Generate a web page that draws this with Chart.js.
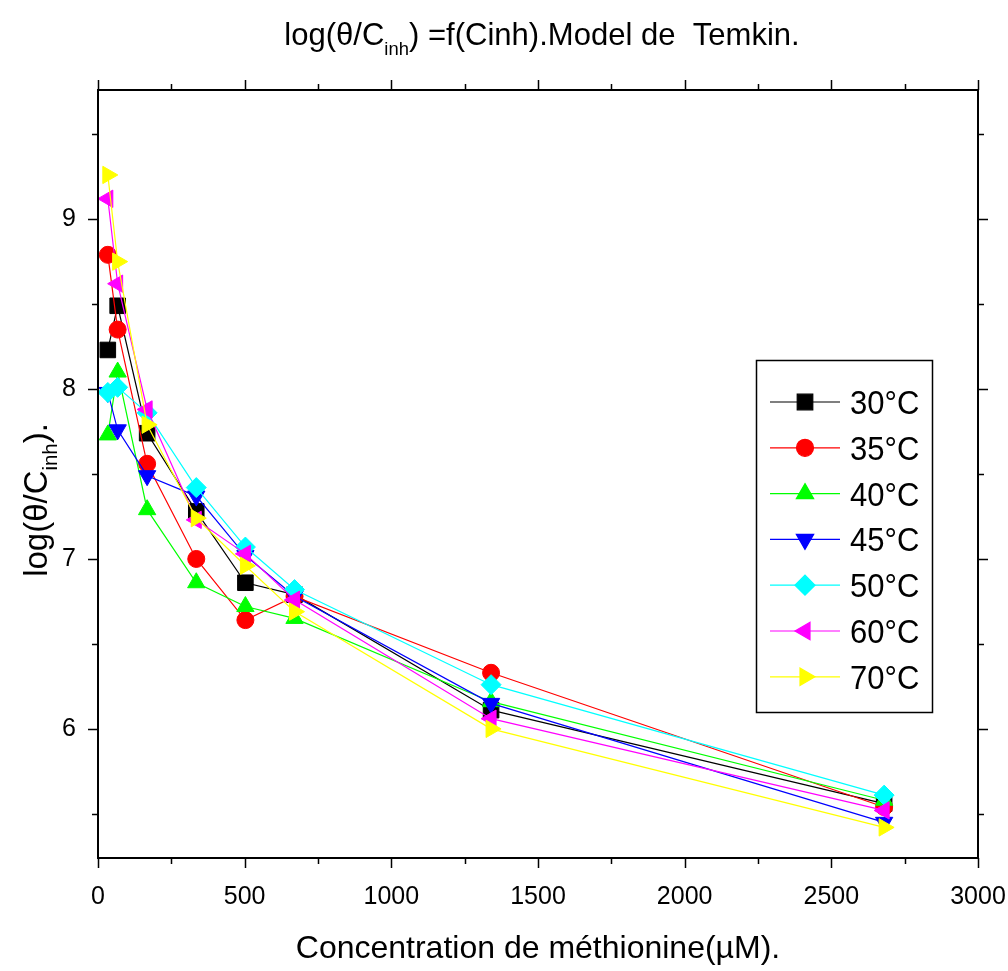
<!DOCTYPE html>
<html>
<head>
<meta charset="utf-8">
<script src="https://cdn.jsdelivr.net/npm/chart.js@4.4.1/dist/chart.umd.min.js"></script>
<style>
  html, body { margin: 0; background: #fff; }
  #wrap { width: 1008px; height: 971px; position: relative; }
</style>
</head>
<body>
<div id="wrap"><canvas id="chart"></canvas></div>
<script>
// methionine concentration (µM)
const conc = [33.5, 67, 167.5, 335, 502.5, 670, 1340, 2680];

const seriesNames = ["30°C", "35°C", "40°C", "45°C", "50°C", "60°C", "70°C"];
const t30 = [8.23, 8.49, 7.74, 7.28, 6.86, 6.79, 6.11, 5.56];
const t35 = [8.79, 8.35, 7.56, 7.00, 6.64, 6.78, 6.33, 5.54];
const t40 = [7.73, 8.10, 7.29, 6.86, 6.72, 6.65, 6.16, 5.58];
const t45 = [7.98, 7.76, 7.49, 7.37, 7.02, 6.78, 6.15, 5.45];
const t50 = [7.98, 8.01, 7.86, 7.42, 7.07, 6.82, 6.26, 5.61];
const t60 = [9.12, 8.62, 7.88, 7.23, 7.03, 6.76, 6.06, 5.52];
const t70 = [9.26, 8.75, 7.79, 7.24, 6.96, 6.69, 6.00, 5.42];

const xTicks = [0, 500, 1000, 1500, 2000, 2500, 3000];
const yTicks = [6, 7, 8, 9];

const COLORS = ["#000000", "#ff0000", "#00ff00", "#0000ff", "#00ffff", "#ff00ff", "#ffff00"];
const STYLES = [
  { pointStyle: "rect", rotation: 0, radius: 11 },
  { pointStyle: "circle", rotation: 0, radius: 8.5 },
  { pointStyle: "triangle", rotation: 0, radius: 10 },
  { pointStyle: "triangle", rotation: 180, radius: 10 },
  { pointStyle: "rectRot", rotation: 0, radius: 10 },
  { pointStyle: "triangle", rotation: 270, radius: 10 },
  { pointStyle: "triangle", rotation: 90, radius: 10 },
];
const allSeries = [t30, t35, t40, t45, t50, t60, t70];

const FONT = "'Liberation Sans', Arial, sans-serif";

// draws a run of text pieces (with subscripts), optionally squeezed
function drawRuns(ctx, runs, x, y, align, squeeze = 1) {
  ctx.save();
  let total = 0;
  runs.forEach((r) => {
    ctx.font = r.size + "px " + FONT;
    r.w = ctx.measureText(r.text).width * squeeze;
    total += r.w;
  });
  let cx = align === "center" ? x - total / 2 : x;
  ctx.fillStyle = "#000";
  ctx.textBaseline = "alphabetic";
  ctx.textAlign = "left";
  runs.forEach((r) => {
    ctx.save();
    ctx.font = r.size + "px " + FONT;
    ctx.translate(cx, y + (r.dy || 0));
    ctx.scale(squeeze, 1);
    ctx.fillText(r.text, 0, 0);
    ctx.restore();
    cx += r.w;
  });
  ctx.restore();
}

const framePlugin = {
  id: "frame",
  afterDraw(chart) {
    const { ctx, chartArea: a, scales } = chart;
    const xs = scales.x, ys = scales.y;
    ctx.save();
    ctx.strokeStyle = "#000";
    ctx.lineWidth = 2;
    ctx.strokeRect(a.left, a.top, a.right - a.left, a.bottom - a.top);

    ctx.lineWidth = 1.5;
    ctx.beginPath();
    for (let v = 0; v <= 3000; v += 250) {
      const px = Math.round(xs.getPixelForValue(v)) + 0.5;
      const len = v % 500 === 0 ? 10 : 6;
      ctx.moveTo(px, a.bottom); ctx.lineTo(px, a.bottom + len);
      ctx.moveTo(px, a.top); ctx.lineTo(px, a.top - len);
    }
    for (let v = 5.5; v <= 9.5; v += 0.5) {
      const py = Math.round(ys.getPixelForValue(v)) + 0.5;
      const len = Math.abs(v - Math.round(v)) < 1e-6 ? 10 : 6;
      ctx.moveTo(a.left, py); ctx.lineTo(a.left - len, py);
      ctx.moveTo(a.right, py); ctx.lineTo(a.right + len, py);
    }
    ctx.stroke();

    // titles
    drawRuns(ctx, [
      { text: "log(\u03B8/C", size: 32 },
      { text: "inh", size: 19, dy: 10 },
      { text: ") =f(Cinh).Model de  Temkin.", size: 32 },
    ], 542, 45, "center", 0.97);

    drawRuns(ctx, [
      { text: "Concentration de m\u00E9thionine(\u00B5M).", size: 32 },
    ], 538, 958, "center", 1);

    ctx.save();
    ctx.translate(47, 500);
    ctx.rotate(-Math.PI / 2);
    drawRuns(ctx, [
      { text: "log(\u03B8/C", size: 34 },
      { text: "inh", size: 21, dy: 10 },
      { text: ").", size: 34 },
    ], 0, 0, "center", 0.97);
    ctx.restore();

    // legend box
    const lx = 756, ly = 360, lw = 176, lh = 352;
    ctx.fillStyle = "#fff";
    ctx.fillRect(lx, ly, lw, lh);
    ctx.strokeStyle = "#000";
    ctx.lineWidth = 1.5;
    ctx.strokeRect(lx + 0.5, ly + 0.5, lw, lh);
    seriesNames.forEach((name, i) => {
      const y = 402 + i * 45.8;
      ctx.strokeStyle = COLORS[i];
      ctx.lineWidth = 1.2;
      ctx.beginPath();
      ctx.moveTo(770, y); ctx.lineTo(840, y);
      ctx.stroke();
      ctx.fillStyle = COLORS[i];
      ctx.strokeStyle = COLORS[i];
      Chart.helpers.drawPoint(ctx, {
        pointStyle: STYLES[i].pointStyle,
        rotation: STYLES[i].rotation,
        radius: STYLES[i].radius,
        borderWidth: 1,
      }, 805, y);
      drawRuns(ctx, [{ text: name, size: 33 }], 850, y + 12, "left", 0.94);
    });
    ctx.restore();
  },
};

const datasets = seriesNames.map((name, i) => ({
  label: name,
  data: conc.map((c, j) => ({ x: c, y: allSeries[i][j] })),
  borderColor: COLORS[i],
  backgroundColor: COLORS[i],
  borderWidth: 1.2,
  pointStyle: STYLES[i].pointStyle,
  pointRotation: STYLES[i].rotation,
  pointRadius: STYLES[i].radius,
  pointBorderWidth: 1,
  pointHoverRadius: STYLES[i].radius,
  tension: 0,
  order: seriesNames.length - i,
}));

new Chart(document.getElementById("chart"), {
  type: "line",
  data: { datasets },
  options: {
    responsive: true,
    maintainAspectRatio: false,
    animation: false,
    layout: { padding: { top: 90, left: 0, right: 30, bottom: 0 } },
    plugins: { legend: { display: false }, tooltip: { enabled: false } },
    scales: {
      x: {
        type: "linear",
        min: 0,
        max: 3000,
        afterFit: (s) => { s.height = 113; s.paddingLeft = 0; s.paddingRight = 0; },
        afterBuildTicks: (s) => { s.ticks = xTicks.map((v) => ({ value: v })); },
        grid: { display: false },
        border: { display: false },
        ticks: {
          padding: 16,
          maxRotation: 0,
          color: "#000",
          font: { size: 25, family: FONT },
          callback: (v) => String(v),
        },
      },
      y: {
        type: "linear",
        min: 5.24,
        max: 9.76,
        afterFit: (s) => { s.width = 98; s.paddingTop = 0; s.paddingBottom = 0; },
        afterBuildTicks: (s) => { s.ticks = yTicks.map((v) => ({ value: v })); },
        grid: { display: false },
        border: { display: false },
        ticks: {
          padding: 14,
          color: "#000",
          font: { size: 25, family: FONT },
          callback: (v) => String(v),
        },
      },
    },
  },
  plugins: [framePlugin],
});
</script>
</body>
</html>
